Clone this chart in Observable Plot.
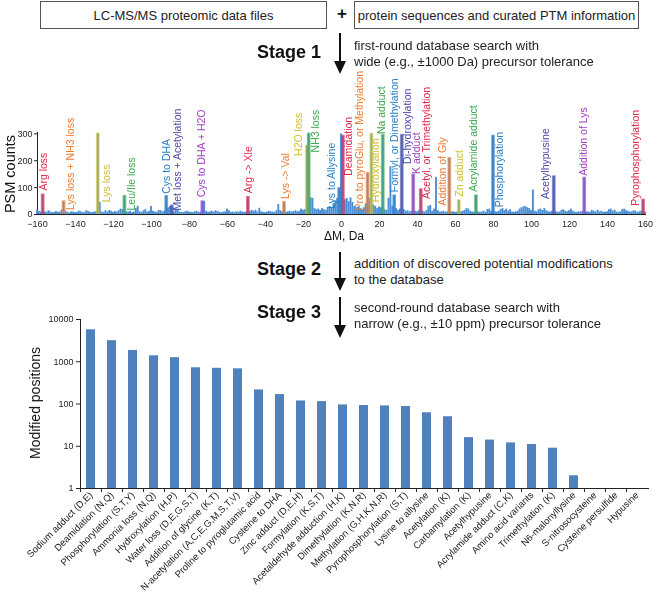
<!DOCTYPE html>
<html><head><meta charset="utf-8">
<script src="https://cdn.jsdelivr.net/npm/d3@7"></script>
<script src="https://cdn.jsdelivr.net/npm/@observablehq/plot@0.6"></script>
<style>
body{margin:0;background:#fff;font-family:"Liberation Sans",Arial,Helvetica,sans-serif;}
#page{position:relative;width:653px;height:596px;overflow:hidden;background:#fff;}
.box{position:absolute;border:1px solid #555;box-sizing:border-box;font-size:13px;color:#222;display:flex;align-items:center;justify-content:center;background:#fff;white-space:nowrap;}
.stage{position:absolute;font-weight:bold;font-size:18px;color:#111;white-space:nowrap;}
.note{position:absolute;font-size:13px;line-height:16px;color:#222;white-space:nowrap;}
.lbl{position:absolute;color:#111;white-space:nowrap;}
#topChart,#bottomChart{position:absolute;left:0;will-change:transform;}
#topChart{top:40px;}
#bottomChart{top:300px;}
svg.arrow{position:absolute;overflow:visible;}
</style></head><body><div id="page">
<div id="topChart"></div>
<div id="bottomChart"></div>
<div class="box" style="left:40px;top:1px;width:287px;height:28px;">LC-MS/MS proteomic data files</div>
<div class="lbl" style="left:342px;top:14px;font-size:17px;font-weight:bold;transform:translate(-50%,-50%);">+</div>
<div class="box" style="left:354px;top:1px;width:285px;height:28px;">protein sequences and curated PTM information</div>

<div class="stage" style="left:257px;top:42px;">Stage 1</div>
<svg class="arrow" style="left:0;top:0;" width="1" height="1"><line x1="340" y1="33" x2="340" y2="62" stroke="#111" stroke-width="2"/><polygon points="334,61 346,61 340,74" fill="#111"/></svg>
<div class="note" style="left:354px;top:38px;">first-round database search with<br>wide (e.g., ±1000 Da) precursor tolerance</div>

<div class="stage" style="left:257px;top:259px;">Stage 2</div>
<svg class="arrow" style="left:0;top:0;" width="1" height="1"><line x1="340" y1="252" x2="340" y2="279" stroke="#111" stroke-width="2"/><polygon points="334,278 346,278 340,291" fill="#111"/></svg>
<div class="note" style="left:354px;top:256px;">addition of discovered potential modifications<br>to the database</div>

<div class="stage" style="left:257px;top:302px;">Stage 3</div>
<svg class="arrow" style="left:0;top:0;" width="1" height="1"><line x1="340" y1="297" x2="340" y2="326" stroke="#111" stroke-width="2"/><polygon points="334,325 346,325 340,338" fill="#111"/></svg>
<div class="note" style="left:354px;top:300px;">second-round database search with<br>narrow (e.g., ±10 ppm) precursor tolerance</div>

<div class="lbl" style="left:10px;top:174px;font-size:14.5px;transform:translate(-50%,-50%) rotate(-90deg);">PSM counts</div>
<div class="lbl" style="left:344px;top:236px;font-size:12px;transform:translate(-50%,-50%);">ΔM, Da</div>
<div class="lbl" style="left:35px;top:403px;font-size:14px;transform:translate(-50%,-50%) rotate(-90deg);">Modified positions</div>
</div>
<script>
// ---------- Stage 1: PSM counts per 1-Da mass-shift bin (ΔM = -160 ... 160) ----------
const deltaMassStart = -160;
const psmCounts = [
  16,12,9,73,10,8,14,9,7,8,
  11,8,9,17,48,12,8,6,10,9,
  7,8,12,10,7,9,14,11,8,7,
  9,10,300,45,10,7,14,9,15,12,
  8,11,9,14,20,18,68,10,9,12,
  7,9,22,30,10,8,14,18,9,12,
  30,12,9,8,15,14,10,12,68,25,
  30,32,10,20,18,9,8,7,10,12,
  9,8,7,10,12,8,9,48,48,12,
  8,10,12,9,14,11,8,7,9,10,
  20,14,8,9,7,10,8,12,9,8,
  9,64,10,15,12,16,9,23,10,8,
  7,9,12,10,9,8,14,37,14,10,
  45,8,10,12,9,11,14,10,12,20,
  16,18,255,300,62,60,22,18,20,15,
  22,18,15,24,30,26,40,50,60,97,
  300,292,55,60,48,62,45,30,25,28,
  22,18,25,40,153,60,299,35,30,22,
  28,25,295,18,15,60,178,30,70,22,
  15,20,295,18,12,14,10,12,147,12,
  10,14,93,12,9,15,30,33,12,20,
  138,14,9,10,12,8,10,209,9,10,
  8,9,52,10,12,15,22,20,12,9,
  8,70,10,8,9,12,8,18,20,12,
  292,10,9,12,18,22,15,20,12,18,
  9,8,10,12,20,25,28,30,25,22,
  15,91,12,10,18,20,15,22,14,10,
  9,12,141,10,8,9,15,18,12,10,
  14,20,12,9,8,10,9,12,136,10,
  9,8,15,12,9,16,10,12,8,9,
  10,18,20,12,16,9,8,10,18,20,
  14,12,9,10,14,12,8,10,12,54,
  9
];
const dmTicks = [-160,-140,-120,-100,-80,-60,-40,-20,0,20,40,60,80,100,120,140,160];
const psmTicks = [0,100,200,300];

// annotated mass shifts
const modNames = ["Arg loss","Lys loss + NH3 loss","Lys loss","Leu/Ile loss","Cys to DHA","Met loss + Acetylation","Cys to DHA + H2O","Arg -> Xle","Lys -> Val","H2O loss","NH3 loss","Lys to Allysine","Deamidation","Pro to pyroGlu, or Methylation","Hydroxylation","Na adduct","Formyl, or Dimethylation","Di-hydroxylation","K adduct","Acetyl, or Trimethylation","Addition of Gly","Zn adduct","Acrylamide adduct","Phosphorylation","Acetylhypusine","Addition of Lys","Pyrophosphorylation"];
const modDelta  = [-157,-146,-128,-114,-92,-89,-73,-49,-30,-18,-17,-1,1,14,16,22,28,32,38,42,57,62,71,80,112,128,159];
const modCounts = [73,48,300,68,68,32,48,64,45,255,300,97,292,153,299,295,70,295,147,93,209,52,70,292,141,136,54];
const modColors = ["#e2264c","#f07a30","#d1c12c","#3ea84e","#2b7fc4","#4c4aa8","#a040bf","#e2264c","#f07a30","#d1c12c","#3ea84e","#2b7fc4","#e2264c","#f07a30","#d1c12c","#3ea84e","#2b7fc4","#4c4aa8","#a040bf","#e2264c","#f07a30","#d1c12c","#3ea84e","#2b7fc4","#4c4aa8","#a040bf","#e2264c"];
const labelDelta = [-156.7,-142.6,-123.7,-110.2,-92.3,-86.5,-73.7,-49.1,-29.5,-22.8,-13.7,-5.4,3.9,9.5,17.9,21,28,34.9,39.5,44.7,53,62,69.8,83.2,107.4,127.5,154.7];
const labelCount = [89,17,46,15,77,15,64,79,58,218,231,21,144,15,46,299,83,188,151,58,33,66,85,27,58,144,33];

// ---------- Stage 3: modified positions per PTM ----------
const ptmNames = ["Sodium adduct (D,E)","Deamidation (N,Q)","Phosphorylation (S,T,Y)","Ammonia loss (N,Q)","Hydroxylation (H,P)","Water loss (D,E,G,S,T)","Addition of glycine (K,T)","N-acetylation (A,C,E,G,M,S,T,V)","Proline to pyroglutamic acid","Cysteine to DHA","Zinc adduct (D,E,H)","Formylation (K,S,T)","Acetaldehyde adduction (H,K)","Dimethylation (K,N,R)","Methylation (G,H,K,N,R)","Pyrophosphorylation (S,T)","Lysine to allysine","Acetylation (K)","Carbamylation (K)","Acetylhypusine","Acrylamide adduct (C,K)","Amino acid variants","Trimethylation (K)","N6-malonyllysine","S-nitrosocysteine","Cysteine persulfide","Hypusine"];
const ptmPositions = [5700,3150,1850,1380,1250,720,700,680,215,167,118,114,95,92,90,87,62,50,16,14,12,11,9,2,1,1,1];
const logTicks = [1,10,100,1000,10000];

const font = '"Liberation Sans", Arial, Helvetica, sans-serif';

const bins = psmCounts.map((c, i) => ({dm: deltaMassStart + i, c}));
const mods = modNames.map((name, i) => ({name, dm: modDelta[i], c: modCounts[i], color: modColors[i], lx: labelDelta[i], ly: labelCount[i]}));

const topPlot = Plot.plot({
  width: 653, height: 200,
  marginLeft: 37, marginRight: 8, marginTop: 92, marginBottom: 26,
  style: {background: "transparent", overflow: "visible", fontFamily: font, fontSize: "9px", color: "#222"},
  color: {type: "identity"},
  x: {domain: [-160, 160], ticks: dmTicks, tickSize: 0, tickPadding: 6, line: true, label: null},
  y: {domain: [0, 305], ticks: psmTicks, tickSize: 3, tickPadding: 2, line: true, label: null},
  marks: [
    Plot.rect(bins, {x1: d => d.dm - 0.5, x2: d => d.dm + 0.5, y1: 0, y2: "c", fill: "#4a8fd6"}),
    Plot.rect(mods, {x1: d => d.dm - 1, x2: d => d.dm + 1, y1: 0, y2: d => d.c + 3, fill: "color", fillOpacity: 0.6}),
    Plot.text(mods, {x: "lx", y: "ly", text: "name", fill: "color", rotate: -90, textAnchor: "start", lineAnchor: "middle", fontSize: 10.5})
  ]
});
document.getElementById("topChart").appendChild(topPlot);

const ptm = ptmNames.map((name, i) => ({name, v: ptmPositions[i]}));
const bw = (653 - 80 - 5) / ptmNames.length;
const bottomPlot = Plot.plot({
  width: 653, height: 296,
  marginLeft: 80, marginRight: 5, marginTop: 19, marginBottom: 108,
  style: {background: "transparent", overflow: "visible", fontFamily: font, fontSize: "9.5px", color: "#222"},
  x: {domain: ptmNames, paddingInner: 0.55, paddingOuter: 0.275, tickSize: 0, tickPadding: 5, tickRotate: -45, line: true, label: null},
  y: {type: "log", domain: [1, 10000], ticks: logTicks, tickFormat: d => String(d), tickSize: 4, tickPadding: 3, line: true, label: null},
  marks: [
    Plot.barY(ptm, {x: "name", y1: 1, y2: "v", fill: "#4f81bd"}),
    Plot.ruleX(ptmNames, {x: d => d, y1: 1, y2: 1, insetBottom: -4, dx: -bw / 2, stroke: "#222"})
  ]
});
document.getElementById("bottomChart").appendChild(bottomPlot);
bottomPlot.querySelectorAll('[aria-label^="y-axis"] text').forEach(t => t.setAttribute("font-size", "9px"));
</script>
</body></html>
